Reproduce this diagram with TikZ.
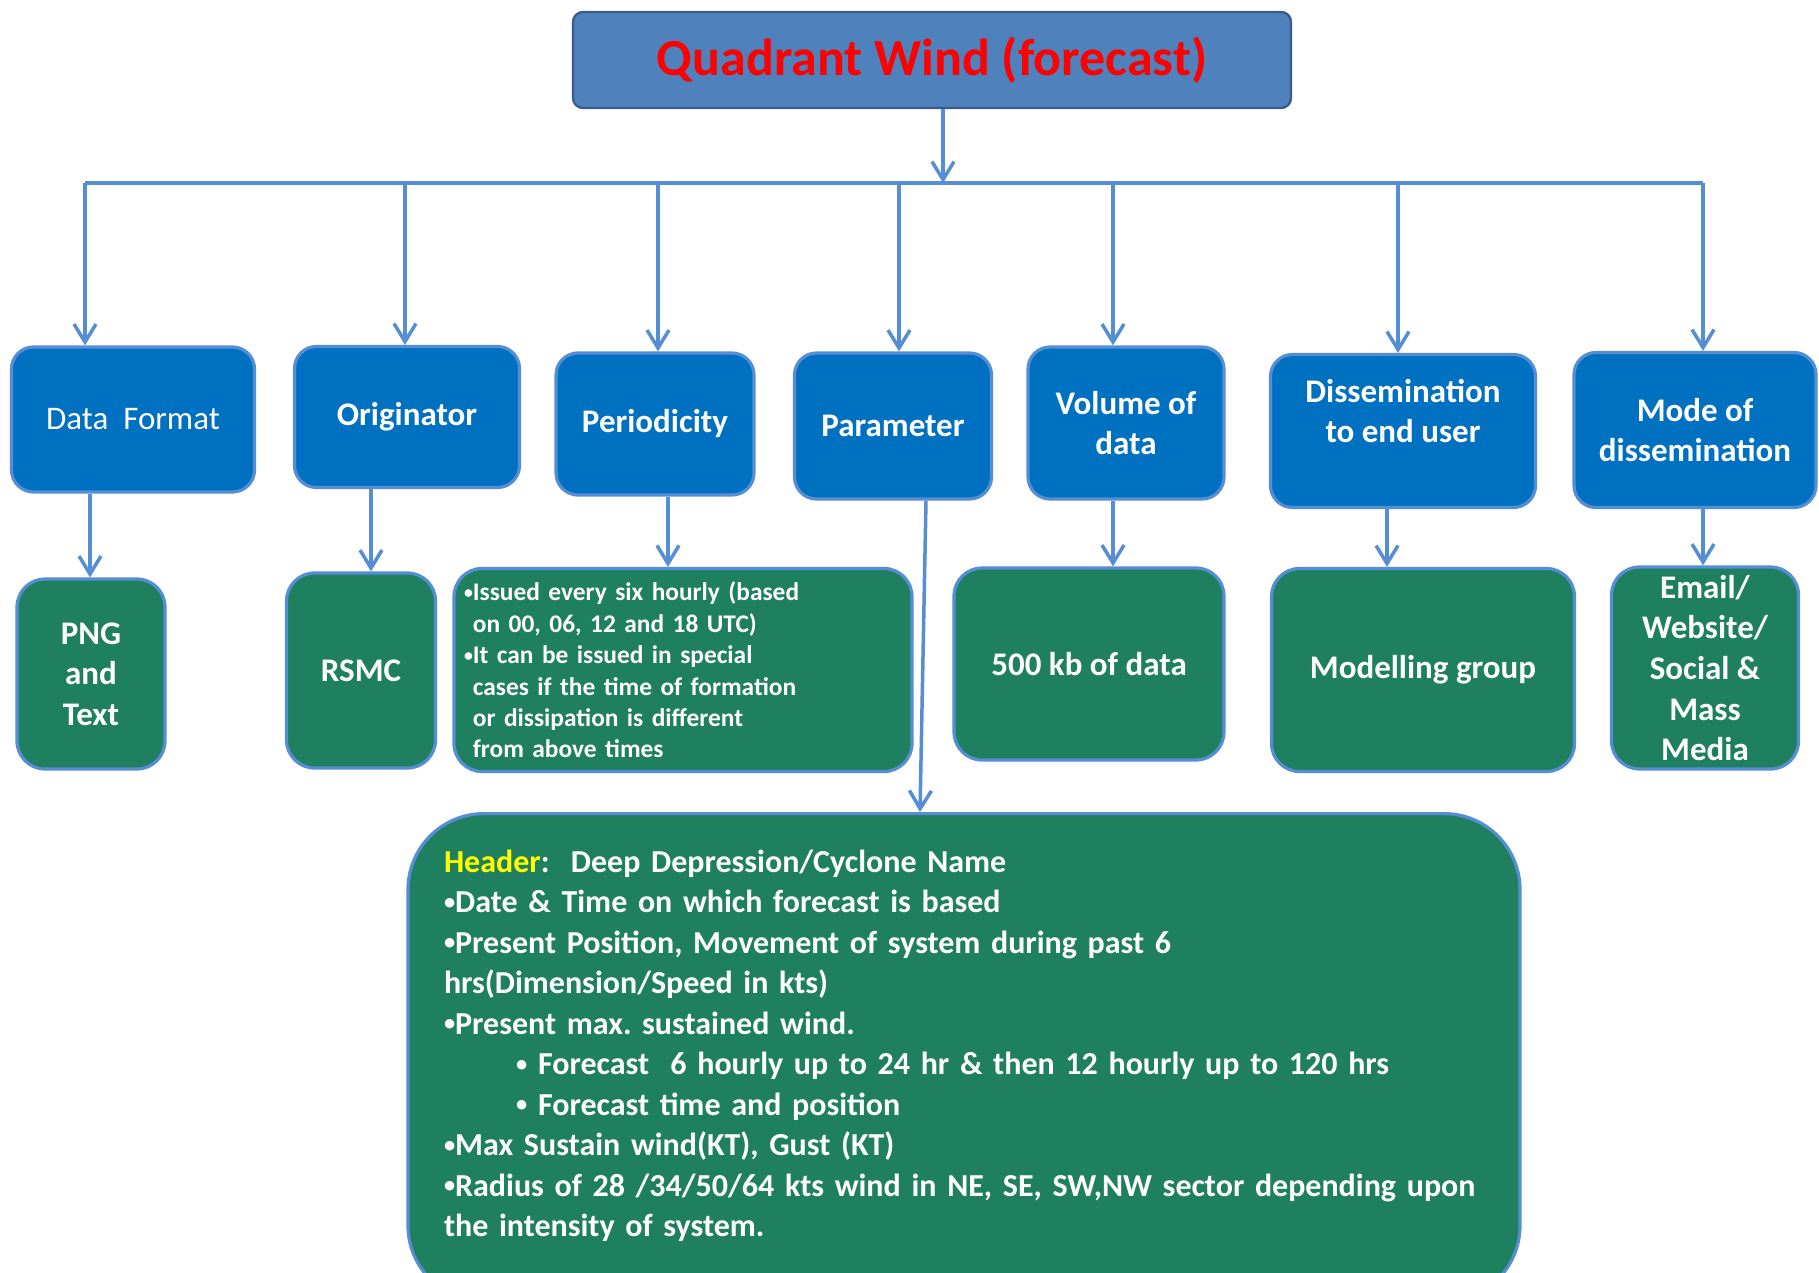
\documentclass[tikz,border=0pt]{standalone}
\usepackage{fontspec}
\setmainfont{Carlito}
\usetikzlibrary{arrows.meta,calc}
\definecolor{topfill}{HTML}{4F81BD}
\definecolor{topedge}{HTML}{385D8A}
\definecolor{wireblue}{HTML}{558ED5}
\definecolor{catblue}{HTML}{0070C0}
\definecolor{valgreen}{HTML}{1F8060}
\definecolor{headyellow}{HTML}{FFFF00}
\newcommand{\smallbul}{\raisebox{0.1em}{\scalebox{0.7}{•}}}
\frenchspacing

\tikzset{
  titlebox/.style={draw=topedge, fill=topfill, line width=1.2pt, rounded corners=5pt,
    text=red, font=\bfseries\fontsize{26}{30}\selectfont},
  catbox/.style={draw=wireblue, fill=catblue, line width=1.6pt, rounded corners=11pt,
    text=white, align=center, inner sep=0pt, font=\bfseries\fontsize{16.5}{20.3}\selectfont},
  valbox/.style={draw=wireblue, fill=valgreen, line width=1.6pt, rounded corners=14pt,
    text=white, align=center, inner sep=0pt, font=\bfseries\fontsize{16.5}{20.3}\selectfont},
  wire/.style={draw=wireblue, line width=1.75pt},
  arr/.style={wire, -{Straight Barb[length=9pt,width=11pt]}}
}

\begin{document}
\begin{tikzpicture}[x=0.5pt,y=-0.5pt]
  \path[use as bounding box, fill=white] (0,0) rectangle (1819,1273);
  %\draw[style=help lines,step=100] (0,0) grid (1819,1273);
  \node[titlebox, minimum width=359pt, minimum height=48pt] (title) at (932,60) {Quadrant Wind (forecast)};
  \coordinate (busL) at (85,183);
  \coordinate (busR) at (1703,183);
  \coordinate (hub) at (943,183);

  \node[catbox, font=\fontsize{16.5}{20.3}\selectfont, minimum width=121.5pt, minimum height=72.5pt] (fmt) at (133,419.5) {Data~ Format};
  \node[catbox, minimum width=112.5pt, minimum height=70.5pt] (orig) at (407,417) {Originator};
  \node[catbox, minimum width=99pt, minimum height=71pt] (per) at (655,424) {Periodicity};
  \node[catbox, minimum width=98.5pt, minimum height=73pt] (par) at (893,426) {Parameter};
  \node[catbox, minimum width=98pt, minimum height=76pt] (vol) at (1126,423) {Volume of\\data};
  \node[catbox, minimum width=132.5pt, minimum height=76.5pt] (dis) at (1403,431) {Dissemination\\to end user\\[0pt]};
  \node[catbox, minimum width=121pt, minimum height=77.5pt] (mode) at (1695,430) {Mode of\\dissemination};

  \node[valbox, minimum width=74pt, minimum height=95pt] (png) at (91,674) {PNG\\and\\Text};
  \node[valbox, minimum width=74.5pt, minimum height=97.5pt] (rsmc) at (361,670.5) {RSMC};
  \node[valbox, align=left, text width=219pt, inner xsep=5pt, minimum height=101.5pt,
    font=\bfseries\fontsize{12.7}{15.7}\selectfont] (ptxt) at (683,670) {%
    \smallbul Issued every six hourly (based\\
    \phantom{\smallbul}on 00, 06, 12 and 18 UTC)\\
    \smallbul It can be issued in special\\
    \phantom{\smallbul}cases if the time of formation\\
    \phantom{\smallbul}or dissipation is different\\
    \phantom{\smallbul}from above times};
  \node[valbox, minimum width=135pt, minimum height=96pt] (kb) at (1089,664) {500 kb of data};
  \node[valbox, minimum width=151.5pt, minimum height=101.5pt] (mdl) at (1423,670) {Modelling group};
  \node[valbox, minimum width=93.5pt, minimum height=101pt] (mail) at (1705,668) {Email/\\Website/\\Social \&\\Mass\\Media};

  \node[valbox, anchor=north, align=left, text width=520pt, inner xsep=18pt, minimum height=244pt,
    rounded corners=38pt, font=\bfseries\fontsize{16}{20.25}\selectfont] (big) at (964,812) {%
    \textcolor{headyellow}{Header}:~ Deep Depression/Cyclone Name\\
    \smallbul Date \& Time on which forecast is based\\
    \smallbul Present Position, Movement of system during past 6\\
    hrs(Dimension/Speed in kts)\\
    \smallbul Present max. sustained wind.\\
    \hspace*{36pt}\makebox[11pt][l]{\smallbul}Forecast~ 6 hourly up to 24 hr \& then 12 hourly up to 120 hrs\\
    \hspace*{36pt}\makebox[11pt][l]{\smallbul}Forecast time and position\\
    \smallbul Max Sustain wind(KT), Gust (KT)\\
    \smallbul Radius of 28 /34/50/64 kts wind in NE, SE, SW,NW sector depending upon\\
    the intensity of system.\par\kern12pt};

  \draw[arr] (title.south -| hub) -- (hub);
  \draw[wire] (busL) -- (busR);
  \foreach \px/\nm in {85/fmt,405/orig,658/per,899/par,1113/vol,1398/dis,1703/mode}
    \draw[arr] (busL -| \px,0) -- (\nm.north -| \px,0);
  \foreach \px/\up/\dn in {90/fmt/png,371/orig/rsmc,668/per/ptxt,1113/vol/kb,1387/dis/mdl,1703/mode/mail}
    \draw[arr] (\up.south -| \px,0) -- (\dn.north -| \px,0);
  \draw[arr] (par.south -| 926,0) -- (big.north -| 920,0);
\end{tikzpicture}
\end{document}
